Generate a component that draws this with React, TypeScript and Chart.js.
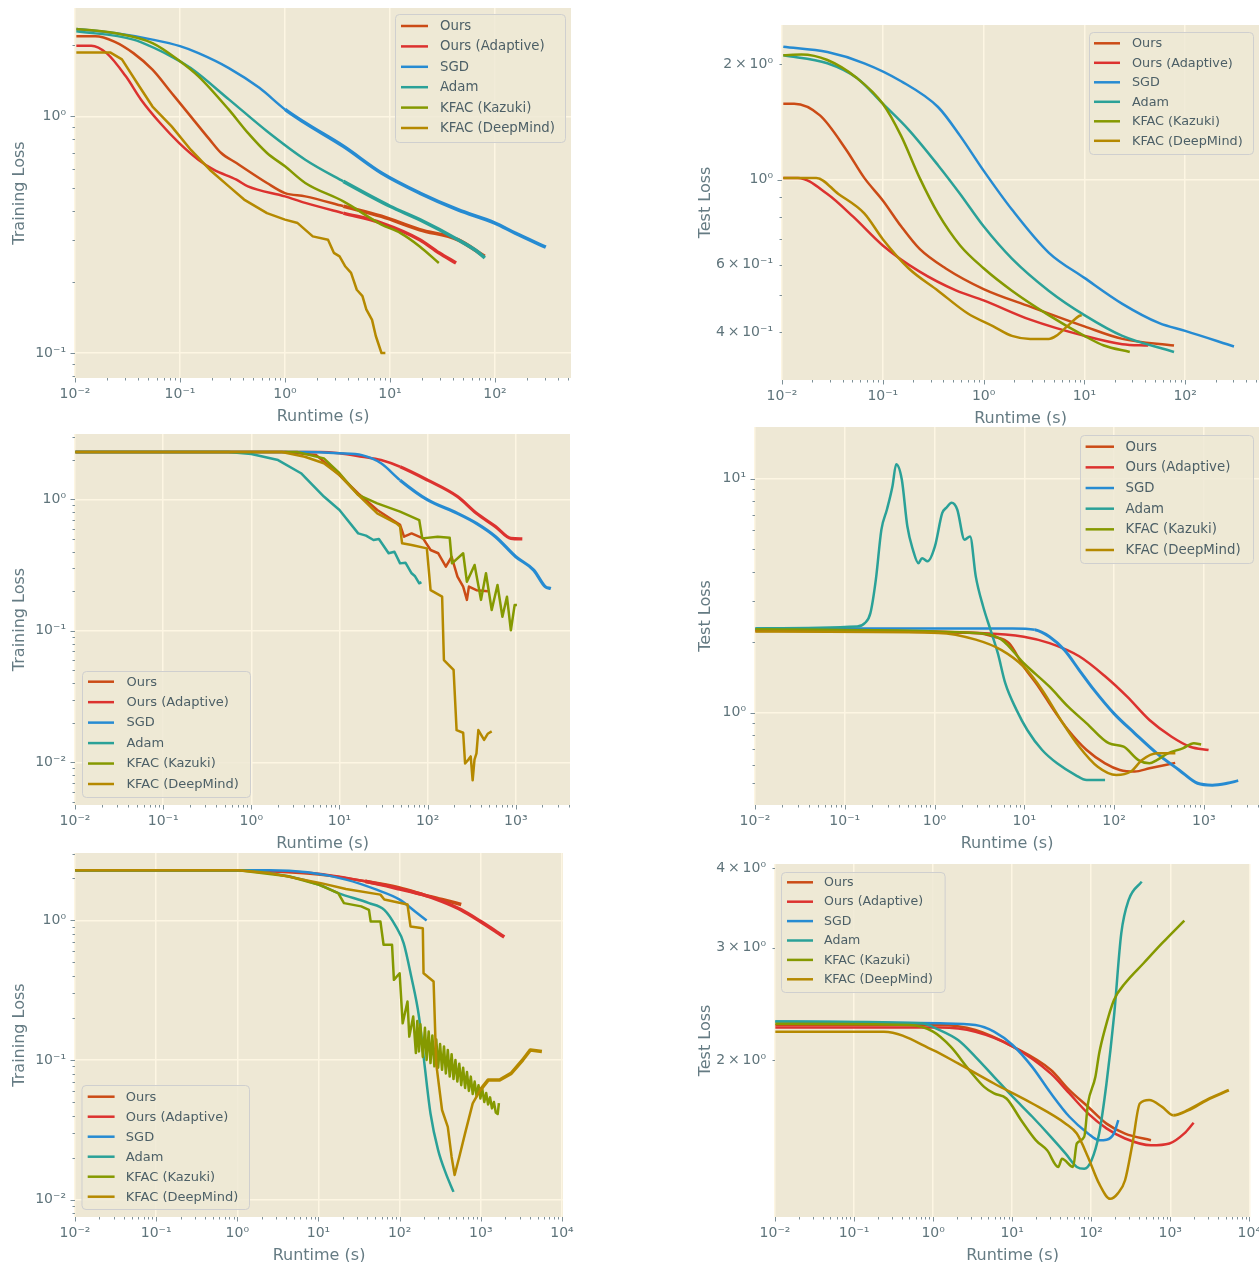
import React, { useEffect, useRef } from 'react';
import { Chart, registerables } from 'chart.js';
Chart.register(...registerables);

type Pt = [number, number];

const SERIES_NAMES = ['Ours', 'Ours (Adaptive)', 'SGD', 'Adam', 'KFAC (Kazuki)', 'KFAC (DeepMind)'];
const SERIES_COLORS = ['#CB4B16', '#DC322F', '#268BD2', '#2AA198', '#859900', '#B58900'];
const X_TITLE = 'Runtime (s)';
const Y_TITLES = ['Training Loss', 'Test Loss'];

// ---------- Panel 1 (top-left, training loss) ----------
const P1_OURS: Pt[] = [[0.0103, 2.18], [0.0156, 2.18], [0.0237, 2.07], [0.036, 1.85], [0.0547, 1.575], [0.0832, 1.255], [0.1265, 1.0], [0.192, 0.797], [0.247, 0.70], [0.345, 0.635], [0.674, 0.523], [1, 0.474], [1.56, 0.459], [3.6, 0.417], [8.3, 0.378], [19.2, 0.332], [44.4, 0.301], [79.8, 0.256]];
const P1_ADAPT: Pt[] = [[0.0103, 1.99], [0.0143, 1.99], [0.02, 1.85], [0.0305, 1.476], [0.0426, 1.176], [0.0647, 0.937], [0.0984, 0.771], [0.1496, 0.656], [0.209, 0.595], [0.345, 0.54], [0.4435, 0.506], [1, 0.459], [1.56, 0.431], [3.6, 0.39], [8.3, 0.354], [19.2, 0.301], [29.2, 0.265], [42.6, 0.24]];
const P1_SGD: Pt[] = [[0.0103, 2.34], [0.0237, 2.25], [0.0547, 2.11], [0.1, 1.98], [0.15, 1.85], [0.292, 1.6], [0.57, 1.32], [1, 1.07], [1.56, 0.937], [3.6, 0.747], [8.3, 0.576], [19.2, 0.474], [44.4, 0.403], [100, 0.354], [156, 0.321], [305, 0.28]];
const P1_ADAM: Pt[] = [[0.0103, 2.29], [0.036, 2.11], [0.083, 1.79], [0.1265, 1.6], [0.292, 1.18], [0.674, 0.865], [1.56, 0.656], [3.6, 0.531], [10, 0.417], [19.2, 0.366], [44.4, 0.301], [67.4, 0.269], [80, 0.252]];
const P1_KAZ: Pt[] = [[0.0103, 2.34], [0.0237, 2.25], [0.0547, 2.04], [0.1, 1.71], [0.15, 1.476], [0.292, 1.067], [0.4435, 0.851], [0.674, 0.7], [1, 0.615], [1.56, 0.523], [3.6, 0.437], [8.3, 0.349], [12.6, 0.321], [19.2, 0.282], [29.2, 0.24]];
const P1_DM: Pt[] = [[0.0103, 1.86], [0.0218, 1.86], [0.028, 1.74], [0.0392, 1.38], [0.0547, 1.1], [0.0832, 0.907], [0.1265, 0.723], [0.192, 0.595], [0.292, 0.506], [0.408, 0.445], [0.674, 0.39], [1, 0.366], [1.32, 0.354], [1.84, 0.311], [2.57, 0.301], [2.92, 0.265], [3.31, 0.256], [3.76, 0.232], [4.26, 0.218], [4.83, 0.185], [5.47, 0.174], [5.95, 0.153], [6.75, 0.138], [7.33, 0.118], [8.3, 0.1], [9.04, 0.1]];

// ---------- Panel 2 (top-right, test loss) ----------
const P2_OURS: Pt[] = [[0.0103, 1.577], [0.0132, 1.577], [0.0238, 1.47], [0.043, 1.2], [0.0655, 1.01], [0.1, 0.882], [0.152, 0.755], [0.232, 0.659], [0.418, 0.587], [1, 0.518], [2.9, 0.466], [10, 0.414], [23.8, 0.384], [77.5, 0.369]];
const P2_ADAPT: Pt[] = [[0.0103, 1.01], [0.0144, 1.01], [0.0282, 0.917], [0.0508, 0.8], [0.1, 0.673], [0.232, 0.575], [0.538, 0.513], [1, 0.484], [2.9, 0.431], [10, 0.391], [23.8, 0.372], [43, 0.369]];
const P2_SGD: Pt[] = [[0.0103, 2.22], [0.0282, 2.15], [0.0655, 2.01], [0.152, 1.805], [0.353, 1.546], [0.585, 1.3], [1, 1.055], [1.91, 0.835], [4.42, 0.645], [10, 0.554], [23.8, 0.474], [55.4, 0.422], [100, 0.403], [305, 0.367]];
const P2_ADAM: Pt[] = [[0.0103, 2.11], [0.0282, 2.01], [0.0553, 1.84], [0.1, 1.577], [0.18, 1.35], [0.353, 1.09], [0.585, 0.917], [1, 0.755], [1.91, 0.622], [4.42, 0.513], [10, 0.443], [23.8, 0.391], [77.5, 0.355]];
const P2_KAZ: Pt[] = [[0.0103, 2.11], [0.0156, 2.12], [0.0282, 2.05], [0.0553, 1.84], [0.1, 1.577], [0.152, 1.3], [0.232, 1.01], [0.353, 0.816], [0.585, 0.673], [1, 0.587], [1.91, 0.513], [4.42, 0.443], [10, 0.391], [15.6, 0.369], [28.2, 0.355]];
const P2_DM: Pt[] = [[0.0103, 1.01], [0.0219, 1.01], [0.0363, 0.917], [0.0655, 0.816], [0.1, 0.699], [0.18, 0.587], [0.353, 0.513], [0.692, 0.448], [1.25, 0.414], [1.91, 0.391], [2.9, 0.384], [4.42, 0.384], [5.24, 0.391], [6.74, 0.414], [8.67, 0.439], [9.4, 0.443]];

// ---------- Panel 3 (middle-left, training loss) ----------
const P3_OURS: Pt[] = [[0.0101, 2.29], [2.45, 2.29], [5.45, 2.17], [10, 1.53], [16.3, 1.11], [26.8, 0.83], [40, 0.696], [48.7, 0.64], [54, 0.52], [65.8, 0.551], [88.7, 0.505], [108, 0.412], [132, 0.389], [161, 0.308], [187, 0.366], [218, 0.258], [253, 0.217], [279, 0.172], [294, 0.217], [358, 0.204], [483, 0.2]];
const P3_ADAPT: Pt[] = [[0.0101, 2.29], [6, 2.29], [10, 2.24], [18, 2.11], [29.6, 1.99], [48.7, 1.77], [100, 1.4], [218, 1.05], [358, 0.783], [589, 0.62], [879, 0.505], [1186, 0.5]];
const P3_SGD: Pt[] = [[0.0101, 2.29], [4.04, 2.29], [10, 2.24], [18, 2.17], [29.6, 1.88], [48.7, 1.4], [100, 0.99], [218, 0.783], [358, 0.657], [589, 0.52], [1000, 0.366], [1597, 0.29], [2153, 0.217], [2500, 0.21]];
const P3_ADAM: Pt[] = [[0.0101, 2.29], [0.55, 2.29], [1, 2.21], [2.01, 1.99], [3.66, 1.58], [6.65, 1.05], [10, 0.83], [16.3, 0.551], [20, 0.53], [24.3, 0.491], [28, 0.5], [36.1, 0.389], [42, 0.4], [48.7, 0.326], [56, 0.33], [65.8, 0.274], [72, 0.26], [80.3, 0.23], [85, 0.235]];
const P3_KAZ: Pt[] = [[0.0101, 2.29], [3.3, 2.29], [6.65, 2.05], [10, 1.58], [16.3, 1.08], [26.8, 0.933], [48.7, 0.806], [80.3, 0.696], [86.9, 0.505], [130, 0.52], [178, 0.51], [189, 0.326], [253, 0.389], [279, 0.236], [341, 0.317], [403, 0.172], [459, 0.274], [533, 0.144], [620, 0.223], [705, 0.128], [794, 0.182], [879, 0.101], [970, 0.157], [1030, 0.157]];
const P3_DM: Pt[] = [[0.0101, 2.29], [2.22, 2.29], [4.04, 2.11], [6.65, 1.88], [10, 1.53], [16.3, 1.08], [26.8, 0.783], [44.2, 0.657], [48.7, 0.62], [51.3, 0.463], [65.8, 0.45], [98, 0.424], [108, 0.204], [146, 0.182], [153, 0.06], [197, 0.0504], [213, 0.0176], [253, 0.0168], [266, 0.0098], [290, 0.0105], [308, 0.0111], [324, 0.0073], [340, 0.0105], [358, 0.0117], [376, 0.0176], [437, 0.0148], [480, 0.0165], [533, 0.0172]];

// ---------- Panel 4 (middle-right, test loss) ----------
const P4_OURS: Pt[] = [[0.0101, 2.23], [2.88, 2.19], [4.62, 2.11], [6.76, 1.98], [9.87, 1.57], [14.4, 1.29], [21.1, 1.03], [30.8, 0.843], [49.5, 0.692], [79.4, 0.607], [116, 0.569], [170, 0.56], [248, 0.578], [480, 0.61]];
const P4_ADAPT: Pt[] = [[0.0101, 2.26], [2.88, 2.19], [9.87, 2.11], [19.1, 1.98], [40.9, 1.74], [79.4, 1.43], [140, 1.17], [248, 0.93], [438, 0.789], [705, 0.715], [1130, 0.692]];
const P4_SGD: Pt[] = [[0.0101, 2.29], [7.4, 2.29], [13.1, 2.26], [19.1, 2.11], [28, 1.85], [40.9, 1.52], [59.8, 1.25], [100, 0.99], [170, 0.816], [300, 0.67], [530, 0.569], [851, 0.499], [1245, 0.49], [1820, 0.499], [2417, 0.512]];
const P4_ADAM: Pt[] = [[0.0101, 2.29], [0.138, 2.33], [0.167, 2.41], [0.193, 2.66], [0.222, 3.7], [0.256, 6.05], [0.295, 7.37], [0.34, 9.27], [0.374, 11.5], [0.432, 9.9], [0.498, 6.25], [0.574, 4.97], [0.661, 4.35], [0.727, 4.57], [0.838, 4.43], [1.01, 5.13], [1.22, 7.13], [1.35, 7.49], [1.55, 7.87], [1.79, 7.37], [2.16, 5.48], [2.49, 5.66], [2.88, 3.82], [3.48, 2.84], [4.2, 2.26], [5.08, 1.79], [6.14, 1.335], [8.16, 1.03], [10.8, 0.843], [15.8, 0.692], [23.2, 0.607], [37.2, 0.541], [49.5, 0.515], [79.4, 0.515]];
const P4_KAZ: Pt[] = [[0.0101, 2.27], [2.88, 2.19], [5.58, 2.05], [9.87, 1.625], [19.1, 1.29], [30.8, 1.06], [49.5, 0.9], [87.3, 0.74], [128, 0.715], [187, 0.627], [248, 0.607], [300, 0.627], [398, 0.67], [582, 0.704], [774, 0.74], [934, 0.73]];
const P4_DM: Pt[] = [[0.0101, 2.22], [1.11, 2.19], [2.88, 2.05], [5.58, 1.85], [9.87, 1.57], [15.8, 1.25], [25.5, 0.93], [40.9, 0.715], [65.8, 0.587], [106, 0.541], [154, 0.56], [205, 0.627], [300, 0.67], [482, 0.67]];

// ---------- Panel 5 (bottom-left, training loss) ----------
const P5_OURS: Pt[] = [[0.0101, 2.29], [1.03, 2.29], [2.46, 2.25], [10, 2.13], [37.6, 1.905], [100, 1.71], [193, 1.53], [333, 1.41], [574, 1.3]];
const P5_ADAPT: Pt[] = [[0.0101, 2.29], [1.03, 2.29], [2.46, 2.26], [10, 2.16], [37.6, 1.905], [100, 1.68], [193, 1.53], [333, 1.37], [574, 1.19], [1000, 0.98], [1531, 0.834], [1946, 0.759]];
const P5_SGD: Pt[] = [[0.0101, 2.29], [2.46, 2.29], [7.3, 2.21], [21.8, 1.96], [52, 1.66], [100, 1.41], [155, 1.16], [215, 1.0]];
const P5_ADAM: Pt[] = [[0.0101, 2.29], [1.03, 2.29], [4.25, 2.07], [10.2, 1.8], [17.5, 1.57], [41.9, 1.33], [64.7, 1.19], [89.8, 0.905], [112, 0.688], [139, 0.396], [173, 0.205], [204, 0.0895], [240, 0.0414], [298, 0.0226], [371, 0.0154], [461, 0.01135]];
const P5_KAZ: Pt[] = [[0.0101, 2.29], [1.03, 2.29], [4.25, 2.07], [10.2, 1.8], [17.5, 1.57], [20.6, 1.33], [33.6, 1.26], [41.9, 1.19], [44, 0.98], [58, 0.98], [63.4, 0.669], [80.6, 0.669], [85, 0.375], [100, 0.418], [109, 0.183], [125, 0.262], [131.5, 0.147], [147, 0.205], [158.5, 0.112], [165, 0.19], [173, 0.115], [180, 0.18], [193, 0.105], [205, 0.17], [215, 0.1], [228, 0.16], [240, 0.095], [253, 0.15], [268, 0.09], [283, 0.14], [298, 0.088], [315, 0.13], [333, 0.085], [352, 0.125], [371, 0.08], [392, 0.118], [414, 0.076], [437, 0.11], [461, 0.073], [487, 0.1], [514, 0.07], [543, 0.094], [574, 0.066], [606, 0.088], [640, 0.063], [676, 0.082], [713, 0.06], [753, 0.076], [795, 0.057], [840, 0.07], [887, 0.055], [937, 0.066], [988, 0.053], [1043, 0.062], [1104, 0.05], [1165, 0.058], [1230, 0.048], [1300, 0.054], [1372, 0.045], [1450, 0.05], [1530, 0.042], [1615, 0.041], [1671, 0.049]];
const P5_DM: Pt[] = [[0.0101, 2.29], [1.03, 2.29], [2.46, 2.19], [10.7, 1.85], [21.8, 1.68], [58, 1.53], [64.7, 1.41], [125, 1.3], [136, 0.905], [193, 0.88], [197, 0.418], [262, 0.365], [282, 0.0946], [333, 0.0438], [392, 0.0332], [437, 0.0202], [476, 0.015], [543, 0.0202], [640, 0.0298], [795, 0.0489], [988, 0.061], [1230, 0.0718], [1706, 0.0718], [2366, 0.0802], [3281, 0.1], [4083, 0.118], [5662, 0.115]];

// ---------- Panel 6 (bottom-right, test loss) ----------
const P6_OURS: Pt[] = [[0.0101, 2.27], [1.21, 2.27], [3.43, 2.229], [10.2, 2.1], [30.9, 1.93], [53, 1.794], [91, 1.69], [156, 1.59], [268, 1.534], [570, 1.497]];
const P6_ADAPT: Pt[] = [[0.0101, 2.25], [1.21, 2.25], [3.43, 2.216], [10.2, 2.1], [30.9, 1.905], [53, 1.773], [91, 1.65], [156, 1.563], [268, 1.507], [570, 1.47], [977, 1.48], [1506, 1.535], [1976, 1.595]];
const P6_SGD: Pt[] = [[0.0101, 2.3], [1.21, 2.284], [3.43, 2.27], [5.9, 2.216], [10.2, 2.11], [18, 1.95], [30.9, 1.774], [53, 1.63], [91, 1.535], [126, 1.497], [156, 1.5], [194, 1.535], [220, 1.61]];
const P6_ADAM: Pt[] = [[0.0101, 2.3], [0.705, 2.284], [1.21, 2.229], [2.07, 2.15], [3.43, 2.024], [5.9, 1.883], [10.2, 1.751], [18, 1.63], [30.9, 1.516], [47.5, 1.427], [65.7, 1.36], [81.6, 1.351], [101, 1.393], [126, 1.534], [156, 1.838], [194, 2.339], [240, 3.16], [298, 3.567], [435, 3.81]];
const P6_KAZ: Pt[] = [[0.0101, 2.28], [0.5, 2.27], [1, 2.216], [1.67, 2.099], [2.87, 1.929], [4.42, 1.816], [5.9, 1.773], [8.46, 1.741], [13, 1.61], [20, 1.497], [27.7, 1.444], [38.3, 1.36], [42.7, 1.401], [59, 1.36], [65.7, 1.48], [81.6, 1.516], [91, 1.71], [113, 1.883], [126, 2.049], [148, 2.229], [194, 2.485], [268, 2.639], [459, 2.837], [789, 3.05], [1506, 3.31]];
const P6_DM: Pt[] = [[0.0101, 2.216], [0.239, 2.216], [1, 2.074], [2.07, 1.976], [5.9, 1.838], [18, 1.71], [47.5, 1.59], [65.7, 1.534], [91, 1.41], [126, 1.28], [174, 1.212], [216, 1.235], [268, 1.296], [333, 1.48], [412, 1.71], [541, 1.731], [789, 1.689], [1091, 1.639], [1680, 1.669], [2884, 1.731], [5510, 1.794]];

// Labelled minor y ticks (values) per panel
const P2_Y_MINOR_LABELS = [2, 0.6, 0.4];
const P6_Y_MINOR_LABELS = [2, 3, 4];

// ---------- styling ----------
const FONT = '"DejaVu Sans", "Noto Sans", sans-serif';
const AX_BG = '#eee8d5';
const GRID = '#fdf6e3';
const TICK_TEXT = '#5f747b';
const TICK_MARK = '#7d8f96';
const TITLE_COLOR = '#657b83';
const LEGEND_TEXT = '#4c5f66';
const LINE_W = 2.5;

interface Rect { l: number; t: number; r: number; b: number }
interface LegendCfg extends Rect { row0: number; step: number; x1: number; x2: number; tx: number; fs: number }
interface PanelCfg {
  col: number;
  plot: Rect;
  xMax: number;
  yMin: number;
  yMax: number;
  yTitle: string;
  yTitleX: number;
  yMinorLabels: number[];
  series: Pt[][];
  smooth: boolean[];
  thick: number[]; // x after which the line is drawn thicker (noisy band)
  thickW: number;
  legend: LegendCfg;
}

const INF = Infinity;
const ALL = [true, true, true, true, true, true];
const PANELS: PanelCfg[] = [
  {
    col: 0, plot: { l: 75, t: 8, r: 571, b: 378 }, xMax: 530, yMin: 0.0784, yMax: 2.87,
    yTitle: Y_TITLES[0], yTitleX: 23.5, yMinorLabels: [],
    series: [P1_OURS, P1_ADAPT, P1_SGD, P1_ADAM, P1_KAZ, P1_DM],
    smooth: [true, true, true, true, true, false],
    thick: [2, 2, 1, 3, INF, INF], thickW: 3.6,
    legend: { l: 395, t: 14, r: 565, b: 142, row0: 26, step: 20.4, x1: 401, x2: 428, tx: 440, fs: 13.3 },
  },
  {
    col: 640, plot: { l: 782, t: 25, r: 1259, b: 380 }, xMax: 540, yMin: 0.322, yMax: 2.53,
    yTitle: Y_TITLES[1], yTitleX: 710, yMinorLabels: P2_Y_MINOR_LABELS,
    series: [P2_OURS, P2_ADAPT, P2_SGD, P2_ADAM, P2_KAZ, P2_DM],
    smooth: ALL,
    thick: [INF, INF, INF, INF, INF, INF], thickW: LINE_W,
    legend: { l: 1089, t: 32, r: 1253, b: 154, row0: 43.3, step: 19.5, x1: 1094, x2: 1120, tx: 1132, fs: 12.8 },
  },
  {
    col: 0, plot: { l: 75, t: 434, r: 570, b: 805 }, xMax: 4120, yMin: 0.00474, yMax: 3.14,
    yTitle: Y_TITLES[0], yTitleX: 23.5, yMinorLabels: [],
    series: [P3_OURS, P3_ADAPT, P3_SGD, P3_ADAM, P3_KAZ, P3_DM],
    smooth: [false, true, true, false, false, false],
    thick: [INF, 30, 30, INF, INF, INF], thickW: 3.2,
    legend: { l: 82, t: 671, r: 250, b: 797, row0: 681.7, step: 20.46, x1: 88, x2: 114, tx: 126.5, fs: 13 },
  },
  {
    col: 640, plot: { l: 755, t: 427, r: 1259, b: 805 }, xMax: 4120, yMin: 0.403, yMax: 16.6,
    yTitle: Y_TITLES[1], yTitleX: 710, yMinorLabels: [],
    series: [P4_OURS, P4_ADAPT, P4_SGD, P4_ADAM, P4_KAZ, P4_DM],
    smooth: ALL,
    thick: [INF, INF, 10, INF, INF, INF], thickW: 3,
    legend: { l: 1080, t: 435, r: 1253, b: 563, row0: 446.7, step: 20.66, x1: 1085.6, x2: 1114, tx: 1125.6, fs: 13.3 },
  },
  {
    col: 0, plot: { l: 75, t: 853, r: 563, b: 1217 }, xMax: 10300, yMin: 0.0075, yMax: 3.04,
    yTitle: Y_TITLES[0], yTitleX: 23.5, yMinorLabels: [],
    series: [P5_OURS, P5_ADAPT, P5_SGD, P5_ADAM, P5_KAZ, P5_DM],
    smooth: [true, true, true, true, false, false],
    thick: [20, 20, INF, INF, INF, 900], thickW: 3.6,
    legend: { l: 81.5, t: 1085, r: 249, b: 1209, row0: 1096.7, step: 20, x1: 87.7, x2: 114.6, tx: 125.8, fs: 13 },
  },
  {
    col: 640, plot: { l: 775, t: 864, r: 1250, b: 1217 }, xMax: 10200, yMin: 1.135, yMax: 4.06,
    yTitle: Y_TITLES[1], yTitleX: 710, yMinorLabels: P6_Y_MINOR_LABELS,
    series: [P6_OURS, P6_ADAPT, P6_SGD, P6_ADAM, P6_KAZ, P6_DM],
    smooth: ALL,
    thick: [INF, INF, INF, INF, INF, 1000], thickW: 3,
    legend: { l: 781, t: 872, r: 944.6, b: 992, row0: 882.3, step: 19.4, x1: 787, x2: 813, tx: 824, fs: 12.6 },
  },
];

const PAD_T = 30;
const PAD_R = 30;
const X_AXIS_H = 60;

const SUP: Record<string, string> = { '-': '⁻', '0': '⁰', '1': '¹', '2': '²', '3': '³', '4': '⁴', '5': '⁵', '6': '⁶', '7': '⁷', '8': '⁸', '9': '⁹' };
const sup = (n: number) => String(n).split('').map((c) => SUP[c] ?? c).join('');

interface Tk { v: number; major: boolean; label: string }
function logTicks(min: number, max: number, labelled: number[]): Tk[] {
  const out: Tk[] = [];
  const d0 = Math.floor(Math.log10(min));
  const d1 = Math.ceil(Math.log10(max));
  for (let d = d0; d <= d1; d++) {
    for (let m = 1; m <= 9; m++) {
      const v = Number((m * Math.pow(10, d)).toPrecision(10));
      if (v < min * 0.99999 || v > max * 1.00001) continue;
      let label = '';
      if (m === 1) label = '10' + sup(d);
      else if (labelled.some((l) => Math.abs(l - v) / v < 1e-6)) label = `${m}\u2009×\u200910${sup(d)}`;
      out.push({ v, major: m === 1, label });
    }
  }
  return out;
}

function roundRect(ctx: CanvasRenderingContext2D, x: number, y: number, w: number, h: number, r: number) {
  ctx.beginPath();
  ctx.moveTo(x + r, y);
  ctx.lineTo(x + w - r, y);
  ctx.arcTo(x + w, y, x + w, y + r, r);
  ctx.lineTo(x + w, y + h - r);
  ctx.arcTo(x + w, y + h, x + w - r, y + h, r);
  ctx.lineTo(x + r, y + h);
  ctx.arcTo(x, y + h, x, y + h - r, r);
  ctx.lineTo(x, y + r);
  ctx.arcTo(x, y, x + r, y, r);
  ctx.closePath();
}

function Panel({ cfg }: { cfg: PanelCfg }) {
  const ref = useRef<HTMLCanvasElement | null>(null);
  const cx = cfg.col;
  const cy = cfg.plot.t - PAD_T;
  const cw = cfg.plot.r + PAD_R - cx;
  const ch = cfg.plot.b + X_AXIS_H - cy;

  useEffect(() => {
    const canvas = ref.current;
    if (!canvas) return;
    const xt = logTicks(0.01, cfg.xMax, []);
    const yt = logTicks(cfg.yMin, cfg.yMax, cfg.yMinorLabels);

    const bgPlugin = {
      id: 'axbg',
      beforeDraw(chart: any) {
        const { ctx, chartArea: a } = chart;
        ctx.save();
        ctx.fillStyle = AX_BG;
        ctx.fillRect(a.left, a.top, a.right - a.left, a.bottom - a.top);
        ctx.restore();
      },
    };

    const decorPlugin = {
      id: 'decor',
      afterDraw(chart: any) {
        const { ctx, chartArea: a } = chart;
        const xs = chart.scales.x;
        const ys = chart.scales.y;
        ctx.save();
        // tick marks
        ctx.strokeStyle = TICK_MARK;
        ctx.lineWidth = 1;
        ctx.beginPath();
        for (const t of xt) {
          const px = Math.round(xs.getPixelForValue(t.v)) + 0.5;
          const len = t.major ? 4.5 : 2.5;
          ctx.moveTo(px, a.bottom);
          ctx.lineTo(px, a.bottom + len);
        }
        for (const t of yt) {
          const py = Math.round(ys.getPixelForValue(t.v)) + 0.5;
          const len = t.major ? 4.5 : 2.5;
          ctx.moveTo(a.left, py);
          ctx.lineTo(a.left - len, py);
        }
        ctx.stroke();

        // axis titles
        ctx.fillStyle = TITLE_COLOR;
        ctx.font = `16px ${FONT}`;
        ctx.textAlign = 'center';
        ctx.textBaseline = 'alphabetic';
        ctx.fillText(X_TITLE, (a.left + a.right) / 2, cfg.plot.b + 43 - cy);
        ctx.save();
        ctx.translate(cfg.yTitleX - cx, (a.top + a.bottom) / 2);
        ctx.rotate(-Math.PI / 2);
        ctx.fillText(cfg.yTitle, 0, 0);
        ctx.restore();

        // legend
        const L = cfg.legend;
        const lx = L.l - cx;
        const ly = L.t - cy;
        roundRect(ctx, lx + 0.5, ly + 0.5, L.r - L.l, L.b - L.t, 4);
        ctx.fillStyle = 'rgba(238,232,213,0.8)';
        ctx.fill();
        ctx.strokeStyle = '#cfcfcf';
        ctx.lineWidth = 1;
        ctx.stroke();
        ctx.font = `${L.fs}px ${FONT}`;
        ctx.textAlign = 'left';
        ctx.textBaseline = 'middle';
        SERIES_NAMES.forEach((name, i) => {
          const yy = L.row0 + i * L.step - cy;
          ctx.strokeStyle = SERIES_COLORS[i];
          ctx.lineWidth = LINE_W;
          ctx.beginPath();
          ctx.moveTo(L.x1 - cx, yy);
          ctx.lineTo(L.x2 - cx, yy);
          ctx.stroke();
          ctx.fillStyle = LEGEND_TEXT;
          ctx.fillText(name, L.tx - cx, yy + 0.5);
        });
        ctx.restore();
      },
    };

    const chart = new Chart(canvas, {
      type: 'line',
      data: {
        datasets: cfg.series.map((pts, i) => ({
          label: SERIES_NAMES[i],
          data: pts.map(([x, y]) => ({ x, y })),
          borderColor: SERIES_COLORS[i],
          backgroundColor: SERIES_COLORS[i],
          borderWidth: LINE_W,
          pointRadius: 0,
          pointHoverRadius: 0,
          tension: cfg.smooth[i] ? 0.4 : 0,
          cubicInterpolationMode: cfg.smooth[i] ? 'monotone' : 'default',
          fill: false,
          borderJoinStyle: 'round',
          borderCapStyle: 'butt',
          order: 10 - i,
          segment: {
            borderWidth: (ctx: any) => (ctx.p0.parsed.x >= cfg.thick[i] ? cfg.thickW : LINE_W),
          },
        })),
      },
      options: {
        animation: false,
        responsive: false,
        devicePixelRatio: 1,
        events: [],
        layout: { padding: { left: 0, top: PAD_T, right: PAD_R, bottom: 0 } },
        plugins: { legend: { display: false }, tooltip: { enabled: false }, title: { display: false } },
        scales: {
          x: {
            type: 'logarithmic',
            min: 0.01,
            max: cfg.xMax,
            afterFit: (s: any) => { s.height = X_AXIS_H; },
            afterBuildTicks: (s: any) => { s.ticks = xt.map((t) => ({ value: t.v })); },
            ticks: {
              autoSkip: false,
              maxRotation: 0,
              minRotation: 0,
              padding: 8,
              color: TICK_TEXT,
              font: { family: FONT, size: 14 },
              callback: (_v: any, idx: number) => (xt[idx] ? xt[idx].label : ''),
            },
            grid: {
              color: (c: any) => (xt[c.index] && xt[c.index].major ? GRID : 'rgba(0,0,0,0)'),
              lineWidth: 1.5,
              drawTicks: false,
            },
            border: { display: false },
          },
          y: {
            type: 'logarithmic',
            min: cfg.yMin,
            max: cfg.yMax,
            afterFit: (s: any) => { s.width = cfg.plot.l - cx; },
            afterBuildTicks: (s: any) => { s.ticks = yt.map((t) => ({ value: t.v })); },
            ticks: {
              autoSkip: false,
              padding: 9,
              color: TICK_TEXT,
              font: { family: FONT, size: 14 },
              callback: (_v: any, idx: number) => (yt[idx] ? yt[idx].label : ''),
            },
            grid: {
              color: (c: any) => (yt[c.index] && yt[c.index].major ? GRID : 'rgba(0,0,0,0)'),
              lineWidth: 1.5,
              drawTicks: false,
            },
            border: { display: false },
          },
        },
      } as any,
      plugins: [bgPlugin, decorPlugin],
    } as any);
    return () => chart.destroy();
  }, [cfg]);

  return (
    <canvas
      ref={ref}
      width={cw}
      height={ch}
      style={{ position: 'absolute', left: cx, top: cy, width: cw, height: ch }}
    />
  );
}

export default function App() {
  return (
    <div style={{ position: 'absolute', left: 0, top: 0, width: 1259, height: 1262, overflow: 'hidden', background: '#ffffff' }}>
      {PANELS.map((p, i) => (
        <Panel key={i} cfg={p} />
      ))}
    </div>
  );
}
